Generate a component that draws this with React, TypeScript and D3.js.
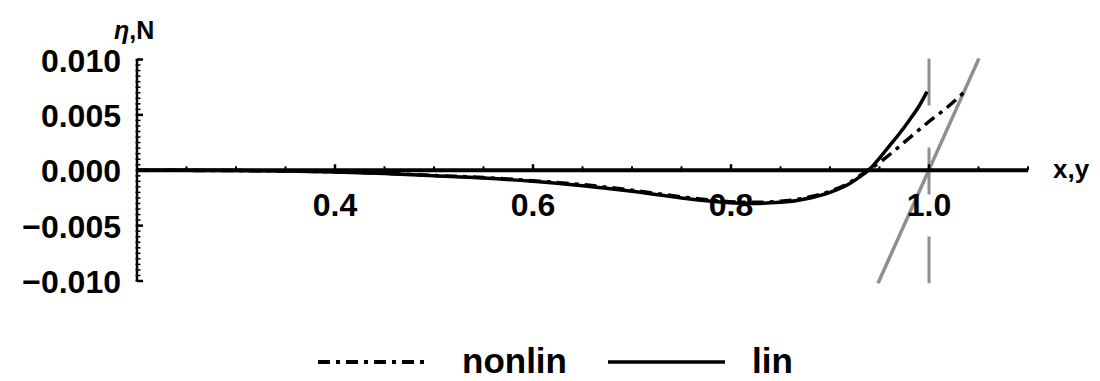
import * as d3 from 'd3';

// curve samples
const linX = [0.2, 0.25, 0.3, 0.35, 0.4, 0.45, 0.5, 0.55, 0.6, 0.65, 0.7, 0.75, 0.78, 0.82, 0.85, 0.88, 0.9, 0.92, 0.93, 0.94, 0.95, 0.96, 0.97, 0.98, 0.99, 0.998];
const linY = [0, -0.00001, -0.00003, -0.00007, -0.00015, -0.0003, -0.0005, -0.0007, -0.001, -0.0014, -0.0019, -0.0025, -0.0028, -0.003, -0.0029, -0.0025, -0.002, -0.0012, -0.0006, 0.0001, 0.0011, 0.0022, 0.0033, 0.0045, 0.0058, 0.0071];

const nonlinX = [0.2, 0.25, 0.3, 0.35, 0.4, 0.45, 0.5, 0.55, 0.6, 0.65, 0.7, 0.75, 0.78, 0.82, 0.85, 0.88, 0.9, 0.92, 0.93, 0.94, 0.95, 0.96, 0.98, 1.0, 1.02, 1.036];
const nonlinY = [0, -0.00001, -0.00003, -0.00007, -0.00014, -0.00028, -0.00047, -0.00066, -0.00095, -0.0013, -0.0018, -0.0024, -0.0027, -0.0029, -0.0028, -0.0024, -0.0019, -0.0011, -0.0005, 0.0001, 0.0007, 0.0014, 0.0029, 0.0044, 0.0058, 0.0071];

// gray guide lines
const slantX = [0.9485, 1.0505];
const slantY = [-0.0102, 0.0101];
const vertX = [1.0, 1.0];
const vertY = [0.0101, -0.0102];

const xTicks = [0.4, 0.6, 0.8, 1.0];
const xTickLabels = ['0.4', '0.6', '0.8', '1.0'];
const yTicks = [0.01, 0.005, 0, -0.005, -0.01];
const yTickLabels = ['0.010', '0.005', '0.000', '\u22120.005', '\u22120.010'];

const legendNames = ['nonlin', 'lin'];

const font = '"Liberation Sans", Arial, sans-serif';
const dashDot = '12,6,4,6';

export default function App() {
  const x = d3.scaleLinear().domain([0.2, 1.1]).range([137, 1028]);
  const y = d3.scaleLinear().domain([-0.01, 0.01]).range([281, 59.5]);

  const line = d3
    .line<[number, number]>()
    .x((d) => x(d[0]))
    .y((d) => y(d[1]))
    .curve(d3.curveMonotoneX);
  const straight = d3
    .line<[number, number]>()
    .x((d) => x(d[0]))
    .y((d) => y(d[1]));

  const linPts = linX.map((v, i) => [v, linY[i]] as [number, number]);
  const nonlinPts = nonlinX.map((v, i) => [v, nonlinY[i]] as [number, number]);

  const xMinor = d3.range(0.25, 1.1001, 0.05).filter((v) => !xTicks.some((t) => Math.abs(t - v) < 1e-6));
  const yMinor = d3.range(-0.01, 0.01001, 0.0005);

  return (
    <svg width={1100} height={381} style={{ position: 'absolute', left: 0, top: 0, background: '#fff' }}>
      {/* gray guides */}
      <path d={straight(vertX.map((v, i) => [v, vertY[i]] as [number, number])) || ''} stroke="#8f8f8f" strokeWidth={3} strokeDasharray="47,42" fill="none" />
      <path d={straight(slantX.map((v, i) => [v, slantY[i]] as [number, number])) || ''} stroke="#8f8f8f" strokeWidth={3.5} fill="none" />

      {/* y axis */}
      <line x1={x(0.2)} x2={x(0.2)} y1={y(-0.01)} y2={y(0.01)} stroke="#000" strokeWidth={2.5} />
      {yMinor.map((t, i) => (
        <line key={'ym' + i} x1={x(0.2) - 1.5} x2={x(0.2) + 3.5} y1={y(t)} y2={y(t)} stroke="#000" strokeWidth={1.5} />
      ))}
      {yTicks.map((t, i) => (
        <g key={'yt' + i}>
          <line x1={x(0.2)} x2={x(0.2) + 6} y1={y(t)} y2={y(t)} stroke="#000" strokeWidth={2.5} />
          <text x={121} y={y(t) + 12} textAnchor="end" fontFamily={font} fontWeight="bold" fontSize={32} fill="#000">
            {yTickLabels[i]}
          </text>
        </g>
      ))}

      {/* x axis */}
      <line x1={x(0.2)} x2={x(1.1)} y1={y(0)} y2={y(0)} stroke="#000" strokeWidth={4} />
      {xMinor.map((t, i) => (
        <line key={'xm' + i} x1={x(t)} x2={x(t)} y1={y(0)} y2={y(0) - 4} stroke="#000" strokeWidth={2} />
      ))}
      {xTicks.map((t, i) => (
        <g key={'xt' + i}>
          <line x1={x(t)} x2={x(t)} y1={y(0)} y2={y(0) - 6} stroke="#000" strokeWidth={2.5} />
          <text x={x(t)} y={216} textAnchor="middle" fontFamily={font} fontWeight="bold" fontSize={32} fill="#000">
            {xTickLabels[i]}
          </text>
        </g>
      ))}

      {/* curves */}
      <path d={line(linPts) || ''} stroke="#000" strokeWidth={3.5} fill="none" />
      <path d={line(nonlinPts) || ''} stroke="#000" strokeWidth={3.5} strokeDasharray={dashDot} fill="none" />

      {/* axis labels */}
      <text x={114} y={39} fontFamily={font} fontWeight="bold" fontSize={25} fill="#000">
        <tspan fontStyle="italic">η</tspan>,N
      </text>
      <text x={1053} y={178} fontFamily={font} fontWeight="bold" fontSize={26} fill="#000">
        x,y
      </text>

      {/* legend */}
      <line x1={318} x2={428} y1={362} y2={362} stroke="#000" strokeWidth={4} strokeDasharray={dashDot} />
      <text x={462} y={373} fontFamily={font} fontWeight="bold" fontSize={35} fill="#000">
        {legendNames[0]}
      </text>
      <line x1={608} x2={725} y1={362} y2={362} stroke="#000" strokeWidth={3.5} />
      <text x={752} y={373} fontFamily={font} fontWeight="bold" fontSize={35} fill="#000">
        {legendNames[1]}
      </text>
    </svg>
  );
}
